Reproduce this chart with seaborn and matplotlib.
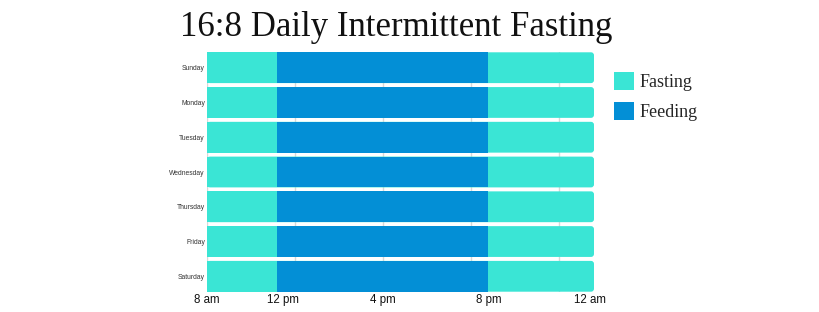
import matplotlib
matplotlib.use("Agg")
import matplotlib.pyplot as plt
import seaborn as sns
import pandas as pd
import numpy as np
from matplotlib.patches import Patch, FancyBboxPatch

days = ["Sunday", "Monday", "Tuesday", "Wednesday", "Thursday", "Friday", "Saturday"]
fasting_morning = [4, 4, 4, 4, 4, 4, 4]
feeding = [12, 12, 12, 12, 12, 12, 12]
fasting_evening = [6, 6, 6, 6, 6, 6, 6]
tick_labels = ["8 am", "12 pm", "4 pm", "8 pm", "12 am"]
tick_values = [0, 4.3, 10, 16, 21.8]

fast_color = "#3ae5d5"
feed_color = "#038fd6"

df = pd.DataFrame({
    "day": days,
    "end_fast": np.array(fasting_morning) + np.array(feeding) + np.array(fasting_evening),
    "end_feed": np.array(fasting_morning) + np.array(feeding),
    "end_morning": np.array(fasting_morning),
})

sns.set_theme(style="white")
fig = plt.figure(figsize=(8.2, 3.12), dpi=100)
ax = fig.add_axes([207/820, 1-291.7/312, 387/820, (291.7-52.3)/312])

# full-length bars (evening fasting visible), rounded on the right end
sns.barplot(data=df, y="day", x="end_fast", color=fast_color, orient="h", width=0.886,
            saturation=1, ax=ax, zorder=3, linewidth=0)
for p in list(ax.patches):
    x0, y0, w, h = p.get_x(), p.get_y(), p.get_width(), p.get_height()
    r = 3 / 17.6
    fb = FancyBboxPatch((x0, y0), w, h, boxstyle=f"round,pad=0,rounding_size={r}",
                        mutation_aspect=(3/35)/r, facecolor=fast_color, edgecolor="none",
                        zorder=3)
    p.remove()
    ax.add_patch(fb)

for col, color in [("end_feed", feed_color), ("end_morning", fast_color)]:
    sns.barplot(data=df, y="day", x=col, color=color, orient="h", width=0.886,
                saturation=1, ax=ax, zorder=4, linewidth=0)

ax.set_xlim(0, 22)
ax.set_ylim(6.443, -0.443)
ax.set_xticks(tick_values)
ax.set_xticklabels(tick_labels, fontsize=8.3, family="Liberation Sans", color="#111111")
ax.tick_params(axis="x", length=0, pad=1.5)
ax.tick_params(axis="y", length=0, pad=1.5)
ax.set_yticks(range(len(days)))
ax.set_yticklabels(days, fontsize=4.9, family="Liberation Sans", color="#333333")
ax.set_xlabel("")
ax.set_ylabel("")
for x in [0, 5, 10, 15, 20]:
    ax.axvline(x, color="#d8d8d8", lw=1, zorder=1)
for s in ax.spines.values():
    s.set_visible(False)
ax.grid(False)

fig.text(396/820, 1-27/312, "16:8 Daily Intermittent Fasting", ha="center", va="center",
         fontsize=25, family="Liberation Serif", color="#111111")

handles = [Patch(facecolor=fast_color, edgecolor="none", label="Fasting"),
           Patch(facecolor=feed_color, edgecolor="none", label="Feeding")]
fig.legend(handles=handles, loc="upper left", bbox_to_anchor=(612/820, 1-70/312),
           frameon=False, prop={"family": "Liberation Serif", "size": 13},
           handlelength=1.1, handleheight=1.15, handletextpad=0.3, labelspacing=0.6,
           borderaxespad=0, borderpad=0.1)

fig.savefig("out.png", dpi=100)
